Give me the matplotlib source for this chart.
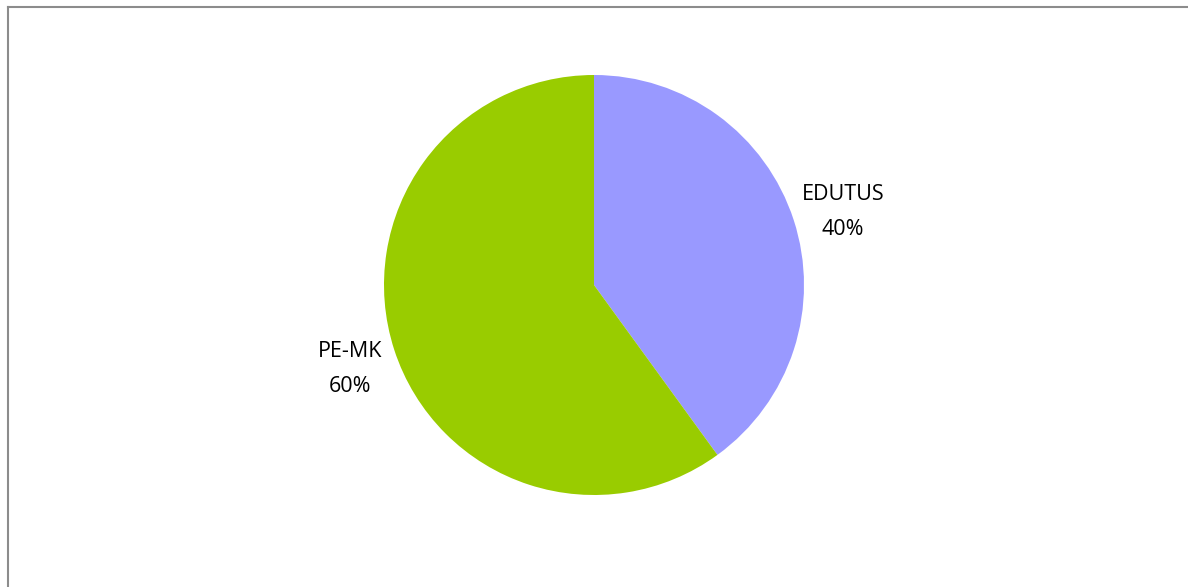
import matplotlib.pyplot as plt
from matplotlib.lines import Line2D

labels = ["EDUTUS", "PE-MK"]
values = [40, 60]
colors = ["#9999FF", "#99CC00"]

W, H = 1188, 587
fig = plt.figure(figsize=(W / 100, H / 100), dpi=100)

# pie centre (594, 285) px, radius 210 px
cx, cy, r = 594, 285, 210
ax = fig.add_axes([(cx - r) / W, (H - cy - r) / H, 2 * r / W, 2 * r / H])
ax.pie(values, colors=colors, startangle=90, counterclock=False, radius=1,
       wedgeprops=dict(linewidth=0))
ax.set_xlim(-1, 1)
ax.set_ylim(-1, 1)
ax.set_aspect("equal")
ax.axis("off")

total = sum(values)
label_pos = [(1.186, 0.348), (-1.162, -0.40)]
for lab, v, (x, y) in zip(labels, values, label_pos):
    ax.text(x, y, f"{lab}\n{round(100 * v / total)}%", ha="center", va="center",
            fontsize=15.5, family="Open Sans", linespacing=1.85, color="#000000")

# chart border (top and left edges visible)
fig.add_artist(Line2D([7.5 / W, 1], [1 - 7 / H, 1 - 7 / H], transform=fig.transFigure,
                      color="#8c8c8c", linewidth=1.5))
fig.add_artist(Line2D([7.5 / W, 7.5 / W], [0, 1 - 7 / H], transform=fig.transFigure,
                      color="#8c8c8c", linewidth=1.5))

fig.savefig("out.png", dpi=100)
